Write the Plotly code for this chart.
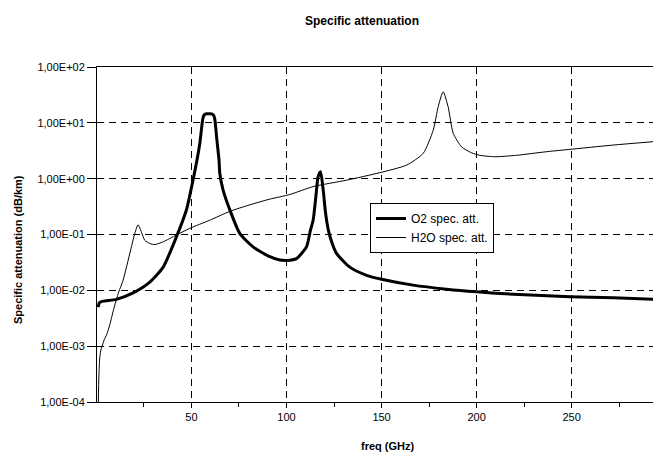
import plotly.graph_objects as go

# Frequency (GHz) and specific attenuation (dB/km) for oxygen
freq_o2 = [1, 1.5, 3.5, 10.5, 19.3, 28.1, 35.1, 42.1, 47.4, 50.8, 52.9, 54.4, 56.0, 56.8,
           58.0, 60.0, 61.4, 62.2, 63.3, 64.5, 64.9, 66.6, 70.2, 75.4, 82.4, 91.2, 96.5,
           101.7, 105.3, 110.5, 112.6, 114.0, 115.5, 116.6, 117.9, 119.3, 120.5, 122.0,
           124.0, 126.3, 133.3, 142.1, 150.0, 166.6, 184.2, 200.0, 219.3, 249.1, 271.9, 293.0]
att_o2 = [5.0e-3, 6.0e-3, 6.4e-3, 6.9e-3, 9.0e-3, 1.4e-2, 2.6e-2, 9.1e-2, 0.28, 0.94, 2.15, 4.3,
          12.0, 14.0, 14.5, 14.5, 14.0, 12.0, 5.2, 2.15, 1.25, 0.63, 0.275, 0.105, 0.060, 0.040,
          0.035, 0.0347, 0.037, 0.060, 0.12, 0.18, 0.5, 1.08, 1.33, 0.63, 0.25, 0.12,
          0.07, 0.046, 0.026, 0.0186, 0.0158, 0.0124, 0.0105, 0.0094, 0.0085, 0.0077, 0.0074, 0.0069]

# Frequency (GHz) and specific attenuation (dB/km) for water vapour
freq_h2o = [1, 1.3, 1.8, 2.5, 3.2, 4.1, 5.5, 7.0, 9.0, 11.7, 14.0, 15.8, 18.4, 20.2, 21.9,
            23.7, 25.4, 28.1, 30.7, 35.1, 42.1, 49.1, 59.6, 70.2, 80.7, 91.2, 101.7, 114.0,
            131.6, 149.1, 163.2, 171.9, 177.2, 179.8, 182.4, 185.0, 187.7, 192.1, 197.4,
            201.7, 209.6, 221.0, 236.8, 254.4, 271.9, 293.0]
att_h2o = [1.0e-4, 3.0e-4, 6.5e-4, 9.0e-4, 1.05e-3, 1.3e-3, 1.65e-3, 2.4e-3, 4.5e-3, 9.3e-3,
           0.015, 0.026, 0.06, 0.105, 0.15, 0.11, 0.079, 0.069, 0.066, 0.074, 0.098, 0.129,
           0.18, 0.26, 0.34, 0.43, 0.52, 0.72, 0.94, 1.28, 1.75, 2.84, 7.4, 19.5, 36.0, 19.5,
           6.5, 3.7, 2.9, 2.62, 2.47, 2.62, 3.04, 3.49, 4.0, 4.6]

y_ticks = [1e-4, 1e-3, 1e-2, 1e-1, 1e0, 1e1, 1e2]
y_tick_text = ["1,00E-04", "1,00E-03", "1,00E-02", "1,00E-01", "1,00E+00", "1,00E+01", "1,00E+02"]
x_ticks = [50, 100, 150, 200, 250]

W, H = 653, 454
L, R, T, B = 97, 0, 67, 52
pw, ph = W - L - R, H - T - B

def px(xpix):
    return (xpix - L) / pw

def py(ypix):
    return (H - B - ypix) / ph

FONT = "Liberation Sans, Arial, sans-serif"

fig = go.Figure()
fig.add_trace(go.Scatter(x=freq_o2, y=att_o2, mode="lines", name="O2 spec. att.",
                         line=dict(color="black", width=3, shape="spline", smoothing=0.6)))
fig.add_trace(go.Scatter(x=freq_h2o, y=att_h2o, mode="lines", name="H2O spec. att.",
                         line=dict(color="black", width=1, shape="spline", smoothing=0.6)))

fig.update_layout(
    width=W, height=H,
    margin=dict(l=L, r=R, t=T, b=B),
    paper_bgcolor="white", plot_bgcolor="white",
    font=dict(family=FONT, size=11, color="black"),
    showlegend=True,
    legend=dict(x=px(370), y=py(203), xanchor="left", yanchor="top",
                bgcolor="white", bordercolor="black", borderwidth=1,
                font=dict(family=FONT, size=12, color="black"),
                tracegroupgap=0, itemwidth=30),
    xaxis=dict(range=[0.3, 292.8], tickvals=x_ticks, ticks="outside", ticklen=5,
               tickcolor="black", showline=True, linecolor="black", linewidth=1,
               mirror=True, showgrid=True, gridcolor="black", griddash="7px,5px",
               gridwidth=1, zeroline=False, tickfont=dict(size=11),
               minor=dict(tickvals=[25, 75, 125, 175, 225, 275], ticks="outside",
                          ticklen=4, tickcolor="black", showgrid=False)),
    yaxis=dict(type="log", range=[-4, 2], tickvals=y_ticks, ticktext=y_tick_text,
               ticks="outside", ticklen=9, tickcolor="black", showline=True,
               linecolor="black", linewidth=1, showgrid=True, gridcolor="black",
               griddash="7px,5px", gridwidth=1, zeroline=False, tickfont=dict(size=11)),
    annotations=[
        dict(text="<b>Specific attenuation</b>", xref="paper", yref="paper",
             x=px(362), y=py(21), xanchor="center", yanchor="middle", showarrow=False,
             font=dict(family=FONT, size=12)),
        dict(text="<b>freq (GHz)</b>", xref="paper", yref="paper",
             x=px(388), y=py(446), xanchor="center", yanchor="middle", showarrow=False,
             font=dict(family=FONT, size=11)),
        dict(text="<b>Specific attenuation (dB/km)</b>", xref="paper", yref="paper",
             x=px(18), y=py(250), xanchor="center", yanchor="middle", showarrow=False,
             textangle=-90, font=dict(family=FONT, size=11)),
    ],
)

fig.write_html("out.html")
